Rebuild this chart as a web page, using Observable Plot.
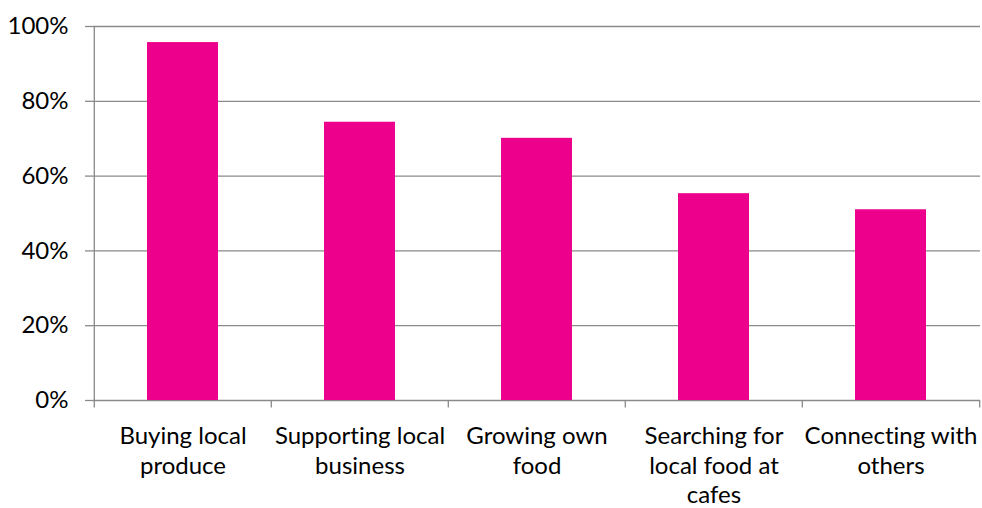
<!DOCTYPE html>
<html>
<head>
<meta charset="utf-8">
<script src="https://cdn.jsdelivr.net/npm/d3@7"></script>
<script src="https://cdn.jsdelivr.net/npm/@observablehq/plot@0.6"></script>
<style>
  html, body { margin: 0; padding: 0; background: #fff; }
  #chart svg { display: block; font-variant-ligatures: none; }
  #chart svg text { font-variant-ligatures: none; font-feature-settings: "liga" 0, "clig" 0; }
</style>
</head>
<body>
<div id="chart"></div>
<script>
const categories = ["Buying local produce", "Supporting local business", "Growing own food", "Searching for local food at cafes", "Connecting with others"];
const tickLabels = ["Buying local\nproduce", "Supporting local\nbusiness", "Growing own\nfood", "Searching for\nlocal food at\ncafes", "Connecting with\nothers"];
const values = [95.7, 74.4, 70.1, 55.3, 51.0];
const yTicks = [0, 20, 40, 60, 80, 100];

const data = categories.map((c, i) => ({category: c, value: values[i]}));
const labelOf = new Map(categories.map((c, i) => [c, tickLabels[i]]));

const W = 982, H = 508;
const mL = 93, mR = 2, mT = 26, mB = 108;
const step = (W - mL - mR) / categories.length;
const grid = "#8a8a8a";

const chart = Plot.plot({
  width: W,
  height: H,
  marginLeft: mL,
  marginRight: mR,
  marginTop: mT,
  marginBottom: mB,
  style: {fontFamily: "Lato, sans-serif", fontSize: "24px", color: "#000", background: "#fff"},
  x: {domain: categories, paddingInner: 0.6, paddingOuter: 0.3},
  y: {domain: [0, 100]},
  marks: [
    Plot.gridY(yTicks, {stroke: grid, strokeOpacity: 1, strokeWidth: 1.3}),
    Plot.axisY(yTicks, {tickSize: 8, tickPadding: 17, stroke: grid, strokeWidth: 1.3, tickFormat: d => d + "%", label: null, fill: "#000", fontSize: 24}),
    Plot.ruleX([0], {x: () => categories[0], dx: -step / 2, y1: 0, y2: 100, stroke: grid, strokeWidth: 1.3}),
    Plot.barY(data, {x: "category", y: "value", fill: "#EC008C"}),
    Plot.ruleX(categories, {x: d => d, dx: -step / 2, y1: 0, y2: -2, stroke: grid, strokeWidth: 1.3}),
    Plot.ruleX([categories[categories.length - 1]], {x: d => d, dx: step / 2, y1: 0, y2: -2, stroke: grid, strokeWidth: 1.3}),
    Plot.axisX({tickSize: 0, tickPadding: 23, tickFormat: d => labelOf.get(d), label: null, lineHeight: 1.23, fill: "#000", fontSize: 24})
  ]
});
document.getElementById("chart").appendChild(chart);
</script>
</body>
</html>
